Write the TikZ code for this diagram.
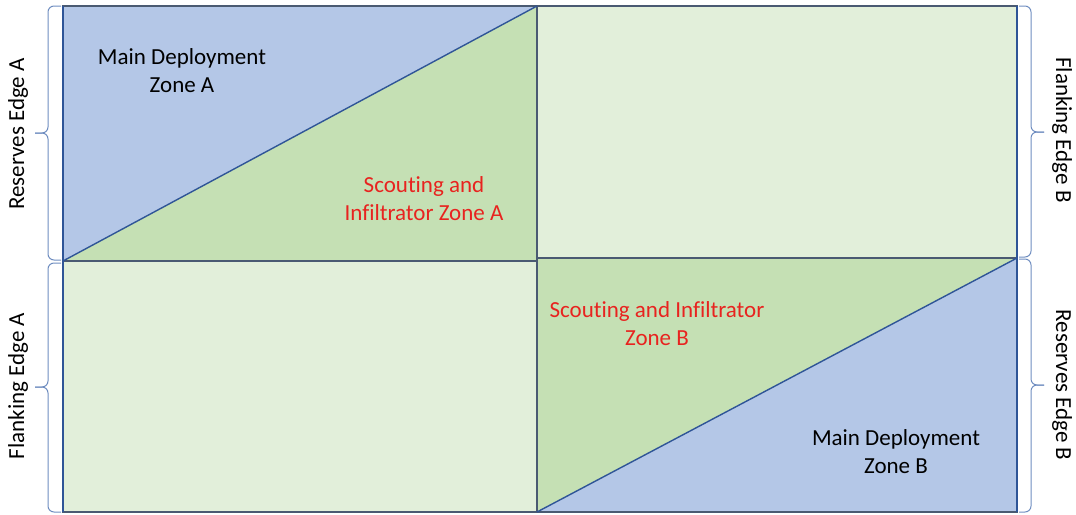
\documentclass[tikz,border=0pt]{standalone}
\usepackage{fontspec}
\setmainfont[Ligatures={NoCommon}]{Carlito}
\definecolor{zblue}{HTML}{B4C7E7}
\definecolor{zgreen}{HTML}{C5E0B4}
\definecolor{zlight}{HTML}{E2EFDA}
\definecolor{zline}{HTML}{4A5A72}
\definecolor{zdiag}{HTML}{2F5597}
\definecolor{zred}{HTML}{E8231F}
\definecolor{zbrace}{HTML}{6F8DC0}
\begin{document}
\begin{tikzpicture}[x=1pt,y=-1pt,
  lbl/.style={align=center, font=\fontsize{23}{28}\selectfont, text=black, inner sep=0pt},
  redlbl/.style={lbl, text=zred},
  side/.style={font=\fontsize{23}{28}\selectfont, inner sep=0pt},
  brc/.style={draw=zbrace, line width=1pt, rounded corners=6pt},
  frame/.style={draw=zline, line width=1.2pt},
  diag/.style={draw=zdiag, line width=1.4pt}]
\useasboundingbox (0,0) rectangle (1076,514);
\coordinate (TL) at (63,6);
\coordinate (TM) at (537,6);
\coordinate (TR) at (1017,6);
\coordinate (ML) at (63,261);
\coordinate (MM) at (537,261);
\coordinate (MMr) at (537,258);
\coordinate (MR) at (1017,258);
\coordinate (BL) at (63,512);
\coordinate (BM) at (537,512);
\coordinate (BR) at (1017,512);
% fills
\fill[zblue] (TL) -- (TM) -- (ML) -- cycle;
\fill[zgreen] (TM) -- (MM) -- (ML) -- cycle;
\fill[zlight] (TM) rectangle (MR);
\fill[zlight] (ML) rectangle (BM);
\fill[zgreen] (MMr) -- (MR) -- (BM) -- cycle;
\fill[zblue] (MR) -- (BR) -- (BM) -- cycle;
% outlines
\draw[frame] (TL) rectangle (MM);
\draw[frame] (TM) rectangle (MR);
\draw[frame] (ML) rectangle (BM);
\draw[frame] (MMr) rectangle (BR);
\draw[diag] (TL) -- (BL);
\draw[diag] (TR) -- (BR);
\draw[diag] (ML) -- (TM);
\draw[diag] (BM) -- (MR);
% zone labels
\node[lbl] (mainA) at (182,71) {Main Deployment\\Zone A};
\node[redlbl] (scoutA) at (424,199) {Scouting and\\Infiltrator Zone A};
\node[redlbl] (scoutB) at (657,324) {Scouting and Infiltrator\\Zone B};
\node[lbl] (mainB) at (896,452) {Main Deployment\\Zone B};
% braces
\coordinate (tLt) at (35,133);
\coordinate (tLb) at (35,387);
\coordinate (tRt) at (1044,132);
\coordinate (tRb) at (1044,385);
\draw[brc] (61,6) -- (48,6) -- (48,133) -- (tLt);
\draw[brc] (61,260) -- (48,260) -- (48,133) -- (tLt);
\draw[brc] (61,263) -- (48,263) -- (48,387) -- (tLb);
\draw[brc] (61,512) -- (48,512) -- (48,387) -- (tLb);
\draw[brc] (1019,6) -- (1031,6) -- (1031,132) -- (tRt);
\draw[brc] (1019,257) -- (1031,257) -- (1031,132) -- (tRt);
\draw[brc] (1019,259) -- (1031,259) -- (1031,385) -- (tRb);
\draw[brc] (1019,512) -- (1031,512) -- (1031,385) -- (tRb);
% side labels
\node[side, rotate=90] (resA) at (18,134) {Reserves Edge A};
\node[side, rotate=90] (flankA) at (18,386) {Flanking Edge A};
\node[side, rotate=-90] (flankB) at (1062,130) {Flanking Edge B};
\node[side, rotate=-90] (resB) at (1062,385) {Reserves Edge B};
\end{tikzpicture}
\end{document}
